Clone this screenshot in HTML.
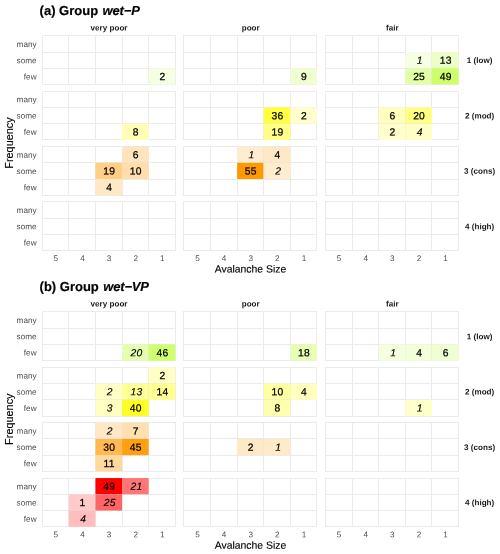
<!DOCTYPE html><html><head><meta charset="utf-8"><title>Avalanche hazard charts</title>
<style>html,body{margin:0;padding:0;background:#fff}svg{display:block}text{font-family:"Liberation Sans",Arial,Helvetica,sans-serif}.t{font-size:13px;font-weight:bold;fill:#000;stroke:#000;stroke-width:0.18px}.s{font-size:8.1px;font-weight:bold;fill:#1a1a1a}.k{font-size:8.2px;fill:#4d4d4d}.ax{font-size:10.4px;fill:#000;stroke:#000;stroke-width:0.12px}.n{font-size:10.3px;fill:#000;text-anchor:middle;stroke:#000;stroke-width:0.25px;letter-spacing:0.25px}.i{font-style:italic}.n.i{stroke-width:0.15px}.b{font-weight:bold}.g{fill:#fff;stroke:#e5e5e5;stroke-width:0.5}</style></head><body>
<svg width="500" height="554" viewBox="0 0 500 554">
<rect width="500" height="554" fill="#fff"/>
<text class="t" transform="translate(39.6,14.90) rotate(0.03)">(a) Group <tspan class="i" dx="0.9" style="letter-spacing:-0.18px">wet−P</tspan></text>
<text class="s" transform="translate(109.05,30.40) rotate(0.03)" text-anchor="middle">very poor</text>
<text class="s" transform="translate(250.70,30.40) rotate(0.03)" text-anchor="middle">poor</text>
<text class="s" transform="translate(392.35,30.40) rotate(0.03)" text-anchor="middle">fair</text>
<text class="s" transform="translate(479.6,63.07) rotate(0.03)" text-anchor="middle">1 (low)</text>
<text class="k" transform="translate(36.6,46.92) rotate(0.03)" text-anchor="end">many</text>
<text class="k" transform="translate(36.6,63.17) rotate(0.03)" text-anchor="end">some</text>
<text class="k" transform="translate(36.6,79.42) rotate(0.03)" text-anchor="end">few</text>
<rect x="42" y="35" width="134" height="1" fill="#ebebeb"/>
<rect x="42" y="52" width="134" height="1" fill="#ebebeb"/>
<rect x="42" y="68" width="134" height="1" fill="#ebebeb"/>
<rect x="42" y="84" width="134" height="1" fill="#ebebeb"/>
<rect x="42" y="35" width="1" height="50" fill="#ebebeb"/>
<rect x="68" y="35" width="1" height="50" fill="#ebebeb"/>
<rect x="95" y="35" width="1" height="50" fill="#ebebeb"/>
<rect x="122" y="35" width="1" height="50" fill="#ebebeb"/>
<rect x="148" y="35" width="1" height="50" fill="#ebebeb"/>
<rect x="175" y="35" width="1" height="50" fill="#ebebeb"/>
<rect x="183" y="35" width="134" height="1" fill="#ebebeb"/>
<rect x="183" y="52" width="134" height="1" fill="#ebebeb"/>
<rect x="183" y="68" width="134" height="1" fill="#ebebeb"/>
<rect x="183" y="84" width="134" height="1" fill="#ebebeb"/>
<rect x="183" y="35" width="1" height="50" fill="#ebebeb"/>
<rect x="210" y="35" width="1" height="50" fill="#ebebeb"/>
<rect x="237" y="35" width="1" height="50" fill="#ebebeb"/>
<rect x="263" y="35" width="1" height="50" fill="#ebebeb"/>
<rect x="290" y="35" width="1" height="50" fill="#ebebeb"/>
<rect x="316" y="35" width="1" height="50" fill="#ebebeb"/>
<rect x="325" y="35" width="134" height="1" fill="#ebebeb"/>
<rect x="325" y="52" width="134" height="1" fill="#ebebeb"/>
<rect x="325" y="68" width="134" height="1" fill="#ebebeb"/>
<rect x="325" y="84" width="134" height="1" fill="#ebebeb"/>
<rect x="325" y="35" width="1" height="50" fill="#ebebeb"/>
<rect x="352" y="35" width="1" height="50" fill="#ebebeb"/>
<rect x="378" y="35" width="1" height="50" fill="#ebebeb"/>
<rect x="405" y="35" width="1" height="50" fill="#ebebeb"/>
<rect x="431" y="35" width="1" height="50" fill="#ebebeb"/>
<rect x="458" y="35" width="1" height="50" fill="#ebebeb"/>
<text class="s" transform="translate(479.6,118.44) rotate(0.03)" text-anchor="middle">2 (mod)</text>
<text class="k" transform="translate(36.6,102.29) rotate(0.03)" text-anchor="end">many</text>
<text class="k" transform="translate(36.6,118.54) rotate(0.03)" text-anchor="end">some</text>
<text class="k" transform="translate(36.6,134.79) rotate(0.03)" text-anchor="end">few</text>
<rect x="42" y="91" width="134" height="1" fill="#ebebeb"/>
<rect x="42" y="107" width="134" height="1" fill="#ebebeb"/>
<rect x="42" y="123" width="134" height="1" fill="#ebebeb"/>
<rect x="42" y="139" width="134" height="1" fill="#ebebeb"/>
<rect x="42" y="91" width="1" height="49" fill="#ebebeb"/>
<rect x="68" y="91" width="1" height="49" fill="#ebebeb"/>
<rect x="95" y="91" width="1" height="49" fill="#ebebeb"/>
<rect x="122" y="91" width="1" height="49" fill="#ebebeb"/>
<rect x="148" y="91" width="1" height="49" fill="#ebebeb"/>
<rect x="175" y="91" width="1" height="49" fill="#ebebeb"/>
<rect x="183" y="91" width="134" height="1" fill="#ebebeb"/>
<rect x="183" y="107" width="134" height="1" fill="#ebebeb"/>
<rect x="183" y="123" width="134" height="1" fill="#ebebeb"/>
<rect x="183" y="139" width="134" height="1" fill="#ebebeb"/>
<rect x="183" y="91" width="1" height="49" fill="#ebebeb"/>
<rect x="210" y="91" width="1" height="49" fill="#ebebeb"/>
<rect x="237" y="91" width="1" height="49" fill="#ebebeb"/>
<rect x="263" y="91" width="1" height="49" fill="#ebebeb"/>
<rect x="290" y="91" width="1" height="49" fill="#ebebeb"/>
<rect x="316" y="91" width="1" height="49" fill="#ebebeb"/>
<rect x="325" y="91" width="134" height="1" fill="#ebebeb"/>
<rect x="325" y="107" width="134" height="1" fill="#ebebeb"/>
<rect x="325" y="123" width="134" height="1" fill="#ebebeb"/>
<rect x="325" y="139" width="134" height="1" fill="#ebebeb"/>
<rect x="325" y="91" width="1" height="49" fill="#ebebeb"/>
<rect x="352" y="91" width="1" height="49" fill="#ebebeb"/>
<rect x="378" y="91" width="1" height="49" fill="#ebebeb"/>
<rect x="405" y="91" width="1" height="49" fill="#ebebeb"/>
<rect x="431" y="91" width="1" height="49" fill="#ebebeb"/>
<rect x="458" y="91" width="1" height="49" fill="#ebebeb"/>
<text class="s" transform="translate(479.6,173.81) rotate(0.03)" text-anchor="middle">3 (cons)</text>
<text class="k" transform="translate(36.6,157.66) rotate(0.03)" text-anchor="end">many</text>
<text class="k" transform="translate(36.6,173.91) rotate(0.03)" text-anchor="end">some</text>
<text class="k" transform="translate(36.6,190.16) rotate(0.03)" text-anchor="end">few</text>
<rect x="42" y="146" width="134" height="1" fill="#ebebeb"/>
<rect x="42" y="162" width="134" height="1" fill="#ebebeb"/>
<rect x="42" y="179" width="134" height="1" fill="#ebebeb"/>
<rect x="42" y="195" width="134" height="1" fill="#ebebeb"/>
<rect x="42" y="146" width="1" height="50" fill="#ebebeb"/>
<rect x="68" y="146" width="1" height="50" fill="#ebebeb"/>
<rect x="95" y="146" width="1" height="50" fill="#ebebeb"/>
<rect x="122" y="146" width="1" height="50" fill="#ebebeb"/>
<rect x="148" y="146" width="1" height="50" fill="#ebebeb"/>
<rect x="175" y="146" width="1" height="50" fill="#ebebeb"/>
<rect x="183" y="146" width="134" height="1" fill="#ebebeb"/>
<rect x="183" y="162" width="134" height="1" fill="#ebebeb"/>
<rect x="183" y="179" width="134" height="1" fill="#ebebeb"/>
<rect x="183" y="195" width="134" height="1" fill="#ebebeb"/>
<rect x="183" y="146" width="1" height="50" fill="#ebebeb"/>
<rect x="210" y="146" width="1" height="50" fill="#ebebeb"/>
<rect x="237" y="146" width="1" height="50" fill="#ebebeb"/>
<rect x="263" y="146" width="1" height="50" fill="#ebebeb"/>
<rect x="290" y="146" width="1" height="50" fill="#ebebeb"/>
<rect x="316" y="146" width="1" height="50" fill="#ebebeb"/>
<rect x="325" y="146" width="134" height="1" fill="#ebebeb"/>
<rect x="325" y="162" width="134" height="1" fill="#ebebeb"/>
<rect x="325" y="179" width="134" height="1" fill="#ebebeb"/>
<rect x="325" y="195" width="134" height="1" fill="#ebebeb"/>
<rect x="325" y="146" width="1" height="50" fill="#ebebeb"/>
<rect x="352" y="146" width="1" height="50" fill="#ebebeb"/>
<rect x="378" y="146" width="1" height="50" fill="#ebebeb"/>
<rect x="405" y="146" width="1" height="50" fill="#ebebeb"/>
<rect x="431" y="146" width="1" height="50" fill="#ebebeb"/>
<rect x="458" y="146" width="1" height="50" fill="#ebebeb"/>
<text class="s" transform="translate(479.6,229.19) rotate(0.03)" text-anchor="middle">4 (high)</text>
<text class="k" transform="translate(36.6,213.04) rotate(0.03)" text-anchor="end">many</text>
<text class="k" transform="translate(36.6,229.29) rotate(0.03)" text-anchor="end">some</text>
<text class="k" transform="translate(36.6,245.54) rotate(0.03)" text-anchor="end">few</text>
<rect x="42" y="201" width="134" height="1" fill="#ebebeb"/>
<rect x="42" y="218" width="134" height="1" fill="#ebebeb"/>
<rect x="42" y="234" width="134" height="1" fill="#ebebeb"/>
<rect x="42" y="250" width="134" height="1" fill="#ebebeb"/>
<rect x="42" y="201" width="1" height="50" fill="#ebebeb"/>
<rect x="68" y="201" width="1" height="50" fill="#ebebeb"/>
<rect x="95" y="201" width="1" height="50" fill="#ebebeb"/>
<rect x="122" y="201" width="1" height="50" fill="#ebebeb"/>
<rect x="148" y="201" width="1" height="50" fill="#ebebeb"/>
<rect x="175" y="201" width="1" height="50" fill="#ebebeb"/>
<rect x="183" y="201" width="134" height="1" fill="#ebebeb"/>
<rect x="183" y="218" width="134" height="1" fill="#ebebeb"/>
<rect x="183" y="234" width="134" height="1" fill="#ebebeb"/>
<rect x="183" y="250" width="134" height="1" fill="#ebebeb"/>
<rect x="183" y="201" width="1" height="50" fill="#ebebeb"/>
<rect x="210" y="201" width="1" height="50" fill="#ebebeb"/>
<rect x="237" y="201" width="1" height="50" fill="#ebebeb"/>
<rect x="263" y="201" width="1" height="50" fill="#ebebeb"/>
<rect x="290" y="201" width="1" height="50" fill="#ebebeb"/>
<rect x="316" y="201" width="1" height="50" fill="#ebebeb"/>
<rect x="325" y="201" width="134" height="1" fill="#ebebeb"/>
<rect x="325" y="218" width="134" height="1" fill="#ebebeb"/>
<rect x="325" y="234" width="134" height="1" fill="#ebebeb"/>
<rect x="325" y="250" width="134" height="1" fill="#ebebeb"/>
<rect x="325" y="201" width="1" height="50" fill="#ebebeb"/>
<rect x="352" y="201" width="1" height="50" fill="#ebebeb"/>
<rect x="378" y="201" width="1" height="50" fill="#ebebeb"/>
<rect x="405" y="201" width="1" height="50" fill="#ebebeb"/>
<rect x="431" y="201" width="1" height="50" fill="#ebebeb"/>
<rect x="458" y="201" width="1" height="50" fill="#ebebeb"/>
<rect x="148.68" y="68.30" width="26.62" height="16.25" fill="#f5ffe1"/>
<rect x="290.33" y="68.30" width="26.62" height="16.25" fill="#efffd0"/>
<rect x="405.36" y="52.05" width="26.62" height="16.25" fill="#f6ffe4"/>
<rect x="431" y="52.05" width="1" height="16.25" fill="#dedede" fill-opacity="0.4"/>
<rect x="405.36" y="68" width="26.62" height="1" fill="#dedede" fill-opacity="0.4"/>
<rect x="431.98" y="52.05" width="26.62" height="16.25" fill="#ecffc6"/>
<rect x="431.98" y="68" width="26.62" height="1" fill="#dedede" fill-opacity="0.4"/>
<rect x="405.36" y="68.30" width="26.62" height="16.25" fill="#e2ffa7"/>
<rect x="431" y="68.30" width="1" height="16.25" fill="#dedede" fill-opacity="0.4"/>
<rect x="431.98" y="68.30" width="26.62" height="16.25" fill="#ceff6b"/>
<rect x="122.06" y="123.67" width="26.62" height="16.25" fill="#ffffb5"/>
<rect x="263.71" y="107.42" width="26.62" height="16.25" fill="#ffff3f"/>
<rect x="290" y="107.42" width="1" height="16.25" fill="#dedede" fill-opacity="0.4"/>
<rect x="263.71" y="123" width="26.62" height="1" fill="#dedede" fill-opacity="0.4"/>
<rect x="290.33" y="107.42" width="26.62" height="16.25" fill="#ffffce"/>
<rect x="263.71" y="123.67" width="26.62" height="16.25" fill="#ffff86"/>
<rect x="378.74" y="107.42" width="26.62" height="16.25" fill="#ffffbd"/>
<rect x="405" y="107.42" width="1" height="16.25" fill="#dedede" fill-opacity="0.4"/>
<rect x="378.74" y="123" width="26.62" height="1" fill="#dedede" fill-opacity="0.4"/>
<rect x="405.36" y="107.42" width="26.62" height="16.25" fill="#ffff82"/>
<rect x="405.36" y="123" width="26.62" height="1" fill="#dedede" fill-opacity="0.4"/>
<rect x="378.74" y="123.67" width="26.62" height="16.25" fill="#ffffce"/>
<rect x="405" y="123.67" width="1" height="16.25" fill="#dedede" fill-opacity="0.4"/>
<rect x="405.36" y="123.67" width="26.62" height="16.25" fill="#ffffc5"/>
<rect x="122.06" y="146.54" width="26.62" height="16.25" fill="#ffe5bd"/>
<rect x="122.06" y="162" width="26.62" height="1" fill="#dedede" fill-opacity="0.4"/>
<rect x="95.44" y="162.79" width="26.62" height="16.25" fill="#ffcf86"/>
<rect x="122" y="162.79" width="1" height="16.25" fill="#dedede" fill-opacity="0.4"/>
<rect x="95.44" y="179" width="26.62" height="1" fill="#dedede" fill-opacity="0.4"/>
<rect x="122.06" y="162.79" width="26.62" height="16.25" fill="#ffdeac"/>
<rect x="95.44" y="179.04" width="26.62" height="16.25" fill="#ffe8c5"/>
<rect x="237.09" y="146.54" width="26.62" height="16.25" fill="#ffedd2"/>
<rect x="263" y="146.54" width="1" height="16.25" fill="#dedede" fill-opacity="0.4"/>
<rect x="237.09" y="162" width="26.62" height="1" fill="#dedede" fill-opacity="0.4"/>
<rect x="263.71" y="146.54" width="26.62" height="16.25" fill="#ffe8c5"/>
<rect x="263.71" y="162" width="26.62" height="1" fill="#dedede" fill-opacity="0.4"/>
<rect x="237.09" y="162.79" width="26.62" height="16.25" fill="#ff9900"/>
<rect x="263" y="162.79" width="1" height="16.25" fill="#dedede" fill-opacity="0.4"/>
<rect x="263.71" y="162.79" width="26.62" height="16.25" fill="#ffebce"/>
<text class="n" transform="translate(162.44,80.02) rotate(0.03)">2</text>
<text class="n" transform="translate(304.09,80.02) rotate(0.03)">9</text>
<text class="n i" transform="translate(419.77,63.77) rotate(0.03)">1</text>
<text class="n" transform="translate(445.74,63.77) rotate(0.03)">13</text>
<text class="n" transform="translate(419.12,80.02) rotate(0.03)">25</text>
<text class="n" transform="translate(445.74,80.02) rotate(0.03)">49</text>
<text class="n" transform="translate(135.82,135.39) rotate(0.03)">8</text>
<text class="n" transform="translate(277.47,119.14) rotate(0.03)">36</text>
<text class="n" transform="translate(304.09,119.14) rotate(0.03)">2</text>
<text class="n" transform="translate(277.47,135.39) rotate(0.03)">19</text>
<text class="n" transform="translate(392.50,119.14) rotate(0.03)">6</text>
<text class="n" transform="translate(419.12,119.14) rotate(0.03)">20</text>
<text class="n" transform="translate(392.50,135.39) rotate(0.03)">2</text>
<text class="n i" transform="translate(419.77,135.39) rotate(0.03)">4</text>
<text class="n" transform="translate(135.82,158.26) rotate(0.03)">6</text>
<text class="n" transform="translate(109.20,174.51) rotate(0.03)">19</text>
<text class="n" transform="translate(135.82,174.51) rotate(0.03)">10</text>
<text class="n" transform="translate(109.20,190.76) rotate(0.03)">4</text>
<text class="n i" transform="translate(251.50,158.26) rotate(0.03)">1</text>
<text class="n" transform="translate(277.47,158.26) rotate(0.03)">4</text>
<text class="n" transform="translate(250.85,174.51) rotate(0.03)">55</text>
<text class="n i" transform="translate(278.12,174.51) rotate(0.03)">2</text>
<text class="k" transform="translate(55.81,261.10) rotate(0.03)" text-anchor="middle">5</text>
<text class="k" transform="translate(82.43,261.10) rotate(0.03)" text-anchor="middle">4</text>
<text class="k" transform="translate(109.05,261.10) rotate(0.03)" text-anchor="middle">3</text>
<text class="k" transform="translate(135.67,261.10) rotate(0.03)" text-anchor="middle">2</text>
<text class="k" transform="translate(162.29,261.10) rotate(0.03)" text-anchor="middle">1</text>
<text class="k" transform="translate(197.46,261.10) rotate(0.03)" text-anchor="middle">5</text>
<text class="k" transform="translate(224.08,261.10) rotate(0.03)" text-anchor="middle">4</text>
<text class="k" transform="translate(250.70,261.10) rotate(0.03)" text-anchor="middle">3</text>
<text class="k" transform="translate(277.32,261.10) rotate(0.03)" text-anchor="middle">2</text>
<text class="k" transform="translate(303.94,261.10) rotate(0.03)" text-anchor="middle">1</text>
<text class="k" transform="translate(339.11,261.10) rotate(0.03)" text-anchor="middle">5</text>
<text class="k" transform="translate(365.73,261.10) rotate(0.03)" text-anchor="middle">4</text>
<text class="k" transform="translate(392.35,261.10) rotate(0.03)" text-anchor="middle">3</text>
<text class="k" transform="translate(418.97,261.10) rotate(0.03)" text-anchor="middle">2</text>
<text class="k" transform="translate(445.59,261.10) rotate(0.03)" text-anchor="middle">1</text>
<text class="ax" transform="translate(250.5,272.60) rotate(0.03)" text-anchor="middle">Avalanche Size</text>
<text class="ax" style="font-size:10.9px" transform="translate(12.8,143.00) rotate(-90)" text-anchor="middle">Frequency</text>
<text class="t" transform="translate(39.6,291.05) rotate(0.03)">(b) Group <tspan class="i" dx="0.9" style="letter-spacing:-0.18px">wet−VP</tspan></text>
<text class="s" transform="translate(109.05,306.55) rotate(0.03)" text-anchor="middle">very poor</text>
<text class="s" transform="translate(250.70,306.55) rotate(0.03)" text-anchor="middle">poor</text>
<text class="s" transform="translate(392.35,306.55) rotate(0.03)" text-anchor="middle">fair</text>
<text class="s" transform="translate(479.6,339.22) rotate(0.03)" text-anchor="middle">1 (low)</text>
<text class="k" transform="translate(36.6,323.07) rotate(0.03)" text-anchor="end">many</text>
<text class="k" transform="translate(36.6,339.32) rotate(0.03)" text-anchor="end">some</text>
<text class="k" transform="translate(36.6,355.57) rotate(0.03)" text-anchor="end">few</text>
<rect x="42" y="311" width="134" height="1" fill="#ebebeb"/>
<rect x="42" y="328" width="134" height="1" fill="#ebebeb"/>
<rect x="42" y="344" width="134" height="1" fill="#ebebeb"/>
<rect x="42" y="360" width="134" height="1" fill="#ebebeb"/>
<rect x="42" y="311" width="1" height="50" fill="#ebebeb"/>
<rect x="68" y="311" width="1" height="50" fill="#ebebeb"/>
<rect x="95" y="311" width="1" height="50" fill="#ebebeb"/>
<rect x="122" y="311" width="1" height="50" fill="#ebebeb"/>
<rect x="148" y="311" width="1" height="50" fill="#ebebeb"/>
<rect x="175" y="311" width="1" height="50" fill="#ebebeb"/>
<rect x="183" y="311" width="134" height="1" fill="#ebebeb"/>
<rect x="183" y="328" width="134" height="1" fill="#ebebeb"/>
<rect x="183" y="344" width="134" height="1" fill="#ebebeb"/>
<rect x="183" y="360" width="134" height="1" fill="#ebebeb"/>
<rect x="183" y="311" width="1" height="50" fill="#ebebeb"/>
<rect x="210" y="311" width="1" height="50" fill="#ebebeb"/>
<rect x="237" y="311" width="1" height="50" fill="#ebebeb"/>
<rect x="263" y="311" width="1" height="50" fill="#ebebeb"/>
<rect x="290" y="311" width="1" height="50" fill="#ebebeb"/>
<rect x="316" y="311" width="1" height="50" fill="#ebebeb"/>
<rect x="325" y="311" width="134" height="1" fill="#ebebeb"/>
<rect x="325" y="328" width="134" height="1" fill="#ebebeb"/>
<rect x="325" y="344" width="134" height="1" fill="#ebebeb"/>
<rect x="325" y="360" width="134" height="1" fill="#ebebeb"/>
<rect x="325" y="311" width="1" height="50" fill="#ebebeb"/>
<rect x="352" y="311" width="1" height="50" fill="#ebebeb"/>
<rect x="378" y="311" width="1" height="50" fill="#ebebeb"/>
<rect x="405" y="311" width="1" height="50" fill="#ebebeb"/>
<rect x="431" y="311" width="1" height="50" fill="#ebebeb"/>
<rect x="458" y="311" width="1" height="50" fill="#ebebeb"/>
<text class="s" transform="translate(479.6,394.59) rotate(0.03)" text-anchor="middle">2 (mod)</text>
<text class="k" transform="translate(36.6,378.44) rotate(0.03)" text-anchor="end">many</text>
<text class="k" transform="translate(36.6,394.69) rotate(0.03)" text-anchor="end">some</text>
<text class="k" transform="translate(36.6,410.94) rotate(0.03)" text-anchor="end">few</text>
<rect x="42" y="367" width="134" height="1" fill="#ebebeb"/>
<rect x="42" y="383" width="134" height="1" fill="#ebebeb"/>
<rect x="42" y="399" width="134" height="1" fill="#ebebeb"/>
<rect x="42" y="416" width="134" height="1" fill="#ebebeb"/>
<rect x="42" y="367" width="1" height="50" fill="#ebebeb"/>
<rect x="68" y="367" width="1" height="50" fill="#ebebeb"/>
<rect x="95" y="367" width="1" height="50" fill="#ebebeb"/>
<rect x="122" y="367" width="1" height="50" fill="#ebebeb"/>
<rect x="148" y="367" width="1" height="50" fill="#ebebeb"/>
<rect x="175" y="367" width="1" height="50" fill="#ebebeb"/>
<rect x="183" y="367" width="134" height="1" fill="#ebebeb"/>
<rect x="183" y="383" width="134" height="1" fill="#ebebeb"/>
<rect x="183" y="399" width="134" height="1" fill="#ebebeb"/>
<rect x="183" y="416" width="134" height="1" fill="#ebebeb"/>
<rect x="183" y="367" width="1" height="50" fill="#ebebeb"/>
<rect x="210" y="367" width="1" height="50" fill="#ebebeb"/>
<rect x="237" y="367" width="1" height="50" fill="#ebebeb"/>
<rect x="263" y="367" width="1" height="50" fill="#ebebeb"/>
<rect x="290" y="367" width="1" height="50" fill="#ebebeb"/>
<rect x="316" y="367" width="1" height="50" fill="#ebebeb"/>
<rect x="325" y="367" width="134" height="1" fill="#ebebeb"/>
<rect x="325" y="383" width="134" height="1" fill="#ebebeb"/>
<rect x="325" y="399" width="134" height="1" fill="#ebebeb"/>
<rect x="325" y="416" width="134" height="1" fill="#ebebeb"/>
<rect x="325" y="367" width="1" height="50" fill="#ebebeb"/>
<rect x="352" y="367" width="1" height="50" fill="#ebebeb"/>
<rect x="378" y="367" width="1" height="50" fill="#ebebeb"/>
<rect x="405" y="367" width="1" height="50" fill="#ebebeb"/>
<rect x="431" y="367" width="1" height="50" fill="#ebebeb"/>
<rect x="458" y="367" width="1" height="50" fill="#ebebeb"/>
<text class="s" transform="translate(479.6,449.96) rotate(0.03)" text-anchor="middle">3 (cons)</text>
<text class="k" transform="translate(36.6,433.81) rotate(0.03)" text-anchor="end">many</text>
<text class="k" transform="translate(36.6,450.06) rotate(0.03)" text-anchor="end">some</text>
<text class="k" transform="translate(36.6,466.31) rotate(0.03)" text-anchor="end">few</text>
<rect x="42" y="422" width="134" height="1" fill="#ebebeb"/>
<rect x="42" y="438" width="134" height="1" fill="#ebebeb"/>
<rect x="42" y="455" width="134" height="1" fill="#ebebeb"/>
<rect x="42" y="471" width="134" height="1" fill="#ebebeb"/>
<rect x="42" y="422" width="1" height="50" fill="#ebebeb"/>
<rect x="68" y="422" width="1" height="50" fill="#ebebeb"/>
<rect x="95" y="422" width="1" height="50" fill="#ebebeb"/>
<rect x="122" y="422" width="1" height="50" fill="#ebebeb"/>
<rect x="148" y="422" width="1" height="50" fill="#ebebeb"/>
<rect x="175" y="422" width="1" height="50" fill="#ebebeb"/>
<rect x="183" y="422" width="134" height="1" fill="#ebebeb"/>
<rect x="183" y="438" width="134" height="1" fill="#ebebeb"/>
<rect x="183" y="455" width="134" height="1" fill="#ebebeb"/>
<rect x="183" y="471" width="134" height="1" fill="#ebebeb"/>
<rect x="183" y="422" width="1" height="50" fill="#ebebeb"/>
<rect x="210" y="422" width="1" height="50" fill="#ebebeb"/>
<rect x="237" y="422" width="1" height="50" fill="#ebebeb"/>
<rect x="263" y="422" width="1" height="50" fill="#ebebeb"/>
<rect x="290" y="422" width="1" height="50" fill="#ebebeb"/>
<rect x="316" y="422" width="1" height="50" fill="#ebebeb"/>
<rect x="325" y="422" width="134" height="1" fill="#ebebeb"/>
<rect x="325" y="438" width="134" height="1" fill="#ebebeb"/>
<rect x="325" y="455" width="134" height="1" fill="#ebebeb"/>
<rect x="325" y="471" width="134" height="1" fill="#ebebeb"/>
<rect x="325" y="422" width="1" height="50" fill="#ebebeb"/>
<rect x="352" y="422" width="1" height="50" fill="#ebebeb"/>
<rect x="378" y="422" width="1" height="50" fill="#ebebeb"/>
<rect x="405" y="422" width="1" height="50" fill="#ebebeb"/>
<rect x="431" y="422" width="1" height="50" fill="#ebebeb"/>
<rect x="458" y="422" width="1" height="50" fill="#ebebeb"/>
<text class="s" transform="translate(479.6,505.33) rotate(0.03)" text-anchor="middle">4 (high)</text>
<text class="k" transform="translate(36.6,489.19) rotate(0.03)" text-anchor="end">many</text>
<text class="k" transform="translate(36.6,505.44) rotate(0.03)" text-anchor="end">some</text>
<text class="k" transform="translate(36.6,521.68) rotate(0.03)" text-anchor="end">few</text>
<rect x="42" y="478" width="134" height="1" fill="#ebebeb"/>
<rect x="42" y="494" width="134" height="1" fill="#ebebeb"/>
<rect x="42" y="510" width="134" height="1" fill="#ebebeb"/>
<rect x="42" y="526" width="134" height="1" fill="#ebebeb"/>
<rect x="42" y="478" width="1" height="49" fill="#ebebeb"/>
<rect x="68" y="478" width="1" height="49" fill="#ebebeb"/>
<rect x="95" y="478" width="1" height="49" fill="#ebebeb"/>
<rect x="122" y="478" width="1" height="49" fill="#ebebeb"/>
<rect x="148" y="478" width="1" height="49" fill="#ebebeb"/>
<rect x="175" y="478" width="1" height="49" fill="#ebebeb"/>
<rect x="183" y="478" width="134" height="1" fill="#ebebeb"/>
<rect x="183" y="494" width="134" height="1" fill="#ebebeb"/>
<rect x="183" y="510" width="134" height="1" fill="#ebebeb"/>
<rect x="183" y="526" width="134" height="1" fill="#ebebeb"/>
<rect x="183" y="478" width="1" height="49" fill="#ebebeb"/>
<rect x="210" y="478" width="1" height="49" fill="#ebebeb"/>
<rect x="237" y="478" width="1" height="49" fill="#ebebeb"/>
<rect x="263" y="478" width="1" height="49" fill="#ebebeb"/>
<rect x="290" y="478" width="1" height="49" fill="#ebebeb"/>
<rect x="316" y="478" width="1" height="49" fill="#ebebeb"/>
<rect x="325" y="478" width="134" height="1" fill="#ebebeb"/>
<rect x="325" y="494" width="134" height="1" fill="#ebebeb"/>
<rect x="325" y="510" width="134" height="1" fill="#ebebeb"/>
<rect x="325" y="526" width="134" height="1" fill="#ebebeb"/>
<rect x="325" y="478" width="1" height="49" fill="#ebebeb"/>
<rect x="352" y="478" width="1" height="49" fill="#ebebeb"/>
<rect x="378" y="478" width="1" height="49" fill="#ebebeb"/>
<rect x="405" y="478" width="1" height="49" fill="#ebebeb"/>
<rect x="431" y="478" width="1" height="49" fill="#ebebeb"/>
<rect x="458" y="478" width="1" height="49" fill="#ebebeb"/>
<rect x="122.06" y="344.45" width="26.62" height="16.25" fill="#e4ffaf"/>
<rect x="148" y="344.45" width="1" height="16.25" fill="#dedede" fill-opacity="0.4"/>
<rect x="148.68" y="344.45" width="26.62" height="16.25" fill="#cfff6e"/>
<rect x="290.33" y="344.45" width="26.62" height="16.25" fill="#e6ffb4"/>
<rect x="378.74" y="344.45" width="26.62" height="16.25" fill="#f4ffdf"/>
<rect x="405" y="344.45" width="1" height="16.25" fill="#dedede" fill-opacity="0.4"/>
<rect x="405.36" y="344.45" width="26.62" height="16.25" fill="#f2ffd8"/>
<rect x="431" y="344.45" width="1" height="16.25" fill="#dedede" fill-opacity="0.4"/>
<rect x="431.98" y="344.45" width="26.62" height="16.25" fill="#f0ffd3"/>
<rect x="148.68" y="367.32" width="26.62" height="16.25" fill="#ffffc6"/>
<rect x="148.68" y="383" width="26.62" height="1" fill="#dedede" fill-opacity="0.4"/>
<rect x="95.44" y="383.57" width="26.62" height="16.25" fill="#ffffc6"/>
<rect x="122" y="383.57" width="1" height="16.25" fill="#dedede" fill-opacity="0.4"/>
<rect x="95.44" y="399" width="26.62" height="1" fill="#dedede" fill-opacity="0.4"/>
<rect x="122.06" y="383.57" width="26.62" height="16.25" fill="#ffff98"/>
<rect x="148" y="383.57" width="1" height="16.25" fill="#dedede" fill-opacity="0.4"/>
<rect x="122.06" y="399" width="26.62" height="1" fill="#dedede" fill-opacity="0.4"/>
<rect x="148.68" y="383.57" width="26.62" height="16.25" fill="#ffff94"/>
<rect x="95.44" y="399.82" width="26.62" height="16.25" fill="#ffffc2"/>
<rect x="122" y="399.82" width="1" height="16.25" fill="#dedede" fill-opacity="0.4"/>
<rect x="122.06" y="399.82" width="26.62" height="16.25" fill="#ffff26"/>
<rect x="263.71" y="383.57" width="26.62" height="16.25" fill="#ffffa4"/>
<rect x="290" y="383.57" width="1" height="16.25" fill="#dedede" fill-opacity="0.4"/>
<rect x="263.71" y="399" width="26.62" height="1" fill="#dedede" fill-opacity="0.4"/>
<rect x="290.33" y="383.57" width="26.62" height="16.25" fill="#ffffbe"/>
<rect x="263.71" y="399.82" width="26.62" height="16.25" fill="#ffffad"/>
<rect x="405.36" y="399.82" width="26.62" height="16.25" fill="#ffffca"/>
<rect x="95.44" y="422.69" width="26.62" height="16.25" fill="#ffe8c6"/>
<rect x="122" y="422.69" width="1" height="16.25" fill="#dedede" fill-opacity="0.4"/>
<rect x="95.44" y="438" width="26.62" height="1" fill="#dedede" fill-opacity="0.4"/>
<rect x="122.06" y="422.69" width="26.62" height="16.25" fill="#ffe0b1"/>
<rect x="122.06" y="438" width="26.62" height="1" fill="#dedede" fill-opacity="0.4"/>
<rect x="95.44" y="438.94" width="26.62" height="16.25" fill="#ffb950"/>
<rect x="122" y="438.94" width="1" height="16.25" fill="#dedede" fill-opacity="0.4"/>
<rect x="95.44" y="455" width="26.62" height="1" fill="#dedede" fill-opacity="0.4"/>
<rect x="122.06" y="438.94" width="26.62" height="16.25" fill="#ffa011"/>
<rect x="95.44" y="455.19" width="26.62" height="16.25" fill="#ffd9a0"/>
<rect x="237.09" y="438.94" width="26.62" height="16.25" fill="#ffe8c6"/>
<rect x="263" y="438.94" width="1" height="16.25" fill="#dedede" fill-opacity="0.4"/>
<rect x="263.71" y="438.94" width="26.62" height="16.25" fill="#ffeaca"/>
<rect x="95.44" y="478.06" width="26.62" height="16.25" fill="#ff0000"/>
<rect x="122" y="478.06" width="1" height="16.25" fill="#dedede" fill-opacity="0.4"/>
<rect x="95.44" y="494" width="26.62" height="1" fill="#dedede" fill-opacity="0.4"/>
<rect x="122.06" y="478.06" width="26.62" height="16.25" fill="#ff7676"/>
<rect x="68.82" y="494.31" width="26.62" height="16.25" fill="#ffcaca"/>
<rect x="95" y="494.31" width="1" height="16.25" fill="#dedede" fill-opacity="0.4"/>
<rect x="68.82" y="510" width="26.62" height="1" fill="#dedede" fill-opacity="0.4"/>
<rect x="95.44" y="494.31" width="26.62" height="16.25" fill="#ff6565"/>
<rect x="68.82" y="510.56" width="26.62" height="16.25" fill="#ffbebe"/>
<text class="n i" transform="translate(136.47,356.18) rotate(0.03)">20</text>
<text class="n" transform="translate(162.44,356.18) rotate(0.03)">46</text>
<text class="n" transform="translate(304.09,356.18) rotate(0.03)">18</text>
<text class="n i" transform="translate(393.15,356.18) rotate(0.03)">1</text>
<text class="n" transform="translate(419.12,356.18) rotate(0.03)">4</text>
<text class="n" transform="translate(445.74,356.18) rotate(0.03)">6</text>
<text class="n" transform="translate(162.44,379.05) rotate(0.03)">2</text>
<text class="n i" transform="translate(109.85,395.30) rotate(0.03)">2</text>
<text class="n i" transform="translate(136.47,395.30) rotate(0.03)">13</text>
<text class="n" transform="translate(162.44,395.30) rotate(0.03)">14</text>
<text class="n i" transform="translate(109.85,411.55) rotate(0.03)">3</text>
<text class="n" transform="translate(135.82,411.55) rotate(0.03)">40</text>
<text class="n" transform="translate(277.47,395.30) rotate(0.03)">10</text>
<text class="n" transform="translate(304.09,395.30) rotate(0.03)">4</text>
<text class="n" transform="translate(277.47,411.55) rotate(0.03)">8</text>
<text class="n i" transform="translate(419.77,411.55) rotate(0.03)">1</text>
<text class="n i" transform="translate(109.85,434.42) rotate(0.03)">2</text>
<text class="n" transform="translate(135.82,434.42) rotate(0.03)">7</text>
<text class="n" transform="translate(109.20,450.67) rotate(0.03)">30</text>
<text class="n" transform="translate(135.82,450.67) rotate(0.03)">45</text>
<text class="n" transform="translate(109.20,466.92) rotate(0.03)">11</text>
<text class="n" transform="translate(250.85,450.67) rotate(0.03)">2</text>
<text class="n i" transform="translate(278.12,450.67) rotate(0.03)">1</text>
<text class="n" transform="translate(109.20,489.79) rotate(0.03)">49</text>
<text class="n i" transform="translate(136.47,489.79) rotate(0.03)">21</text>
<text class="n" transform="translate(82.58,506.04) rotate(0.03)">1</text>
<text class="n i" transform="translate(109.85,506.04) rotate(0.03)">25</text>
<text class="n i" transform="translate(83.23,522.28) rotate(0.03)">4</text>
<text class="k" transform="translate(55.81,537.25) rotate(0.03)" text-anchor="middle">5</text>
<text class="k" transform="translate(82.43,537.25) rotate(0.03)" text-anchor="middle">4</text>
<text class="k" transform="translate(109.05,537.25) rotate(0.03)" text-anchor="middle">3</text>
<text class="k" transform="translate(135.67,537.25) rotate(0.03)" text-anchor="middle">2</text>
<text class="k" transform="translate(162.29,537.25) rotate(0.03)" text-anchor="middle">1</text>
<text class="k" transform="translate(197.46,537.25) rotate(0.03)" text-anchor="middle">5</text>
<text class="k" transform="translate(224.08,537.25) rotate(0.03)" text-anchor="middle">4</text>
<text class="k" transform="translate(250.70,537.25) rotate(0.03)" text-anchor="middle">3</text>
<text class="k" transform="translate(277.32,537.25) rotate(0.03)" text-anchor="middle">2</text>
<text class="k" transform="translate(303.94,537.25) rotate(0.03)" text-anchor="middle">1</text>
<text class="k" transform="translate(339.11,537.25) rotate(0.03)" text-anchor="middle">5</text>
<text class="k" transform="translate(365.73,537.25) rotate(0.03)" text-anchor="middle">4</text>
<text class="k" transform="translate(392.35,537.25) rotate(0.03)" text-anchor="middle">3</text>
<text class="k" transform="translate(418.97,537.25) rotate(0.03)" text-anchor="middle">2</text>
<text class="k" transform="translate(445.59,537.25) rotate(0.03)" text-anchor="middle">1</text>
<text class="ax" transform="translate(250.5,548.75) rotate(0.03)" text-anchor="middle">Avalanche Size</text>
<text class="ax" style="font-size:10.9px" transform="translate(12.8,419.15) rotate(-90)" text-anchor="middle">Frequency</text>
</svg></body></html>
